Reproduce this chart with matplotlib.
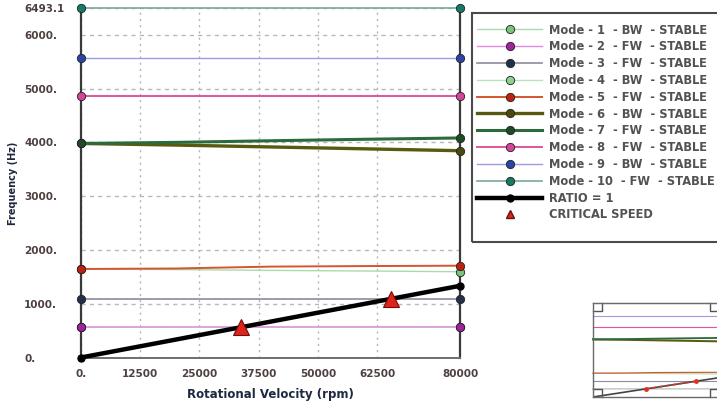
import matplotlib
matplotlib.use("Agg")
import matplotlib.pyplot as plt
from matplotlib.lines import Line2D
from matplotlib.patches import Rectangle

# ---------------- data ----------------
speed_rpm = [0, 20000, 40000, 60000, 80000]
mode_labels = [
    "Mode - 1  - BW  - STABLE",
    "Mode - 2  - FW  - STABLE",
    "Mode - 3  - FW  - STABLE",
    "Mode - 4  - BW  - STABLE",
    "Mode - 5  - FW  - STABLE",
    "Mode - 6  - BW  - STABLE",
    "Mode - 7  - FW  - STABLE",
    "Mode - 8  - FW  - STABLE",
    "Mode - 9  - BW  - STABLE",
    "Mode - 10  - FW  - STABLE",
]
mode1 = [1646, 1635, 1620, 1608, 1595]
mode2 = [566, 567, 568, 569, 570]
mode3 = [1093, 1093, 1093, 1093, 1093]
mode4 = [566, 565, 564, 563, 562]
mode5 = [1646, 1655, 1690, 1700, 1707]
mode6 = [3980, 3950, 3915, 3880, 3845]
mode7 = [3980, 4000, 4030, 4058, 4082]
mode8 = [4862, 4862, 4862, 4862, 4862]
mode9 = [5563, 5563, 5563, 5563, 5563]
mode10 = [6493.1, 6493.1, 6493.1, 6493.1, 6493.1]
modes = [mode1, mode2, mode3, mode4, mode5, mode6, mode7, mode8, mode9, mode10]

ratio_rpm = [0, 80000]
ratio_hz = [0, 1333.3]

critical_rpm = [33800, 65500]
critical_hz = [563, 1092]

x_ticks = [0, 12500, 25000, 37500, 50000, 62500, 80000]
x_ticklabels = ["0.", "12500", "25000", "37500", "50000", "62500", "80000"]
y_ticks = [0, 1000, 2000, 3000, 4000, 5000, 6000, 6493.1]
y_ticklabels = ["0.", "1000.", "2000.", "3000.", "4000.", "5000.", "6000.", "6493.1"]

# ---------------- styles ----------------
line_colors = ["#a9dcaa", "#e28ae0", "#8c8c9c", "#b9e3b9", "#d4552f",
               "#585a12", "#2c6a3a", "#e0559e", "#9c9ce4", "#78a898"]
marker_faces = ["#7cc47e", "#a0229c", "#22304a", "#8fd08f", "#c0200f",
                "#4a4a10", "#1f4a26", "#d4449a", "#2a44a8", "#167a66"]
line_widths = [1.0, 1.0, 1.2, 1.0, 1.4, 2.4, 2.2, 1.4, 1.0, 1.2]
z_orders = [3.0, 3.2, 3.0, 3.1, 3.3, 3.0, 3.1, 3.0, 3.0, 3.0]

W, H = 717, 404
fig = plt.figure(figsize=(W / 100, H / 100), dpi=100)
fig.patch.set_facecolor("white")

ax_l, ax_r, ax_t, ax_b = 81, 460, 8.3, 357.5
ax = fig.add_axes([ax_l / W, 1 - ax_b / H, (ax_r - ax_l) / W, (ax_b - ax_t) / H])

for vals, c, mf, lw, z in zip(modes, line_colors, marker_faces, line_widths, z_orders):
    ax.plot(speed_rpm, vals, color=c, lw=lw, zorder=z, clip_on=False,
            marker="o", markevery=[0, len(vals) - 1], markersize=6,
            markerfacecolor=mf, markeredgecolor="#222222", markeredgewidth=0.6)

ax.plot(ratio_rpm, ratio_hz, color="black", lw=3.2, zorder=5, clip_on=False,
        marker="o", markersize=5, markerfacecolor="black", markeredgecolor="black")
ax.plot(critical_rpm, critical_hz, ls="none", marker="^", markersize=11,
        markerfacecolor="#e0241a", markeredgecolor="#6a1010", markeredgewidth=0.8,
        zorder=6, clip_on=False)

ax.set_xlim(0, 80000)
ax.set_ylim(0, 6493.1)
ax.set_xticks(x_ticks)
ax.set_xticklabels(x_ticklabels)
ax.set_yticks(y_ticks)
ax.set_yticklabels(y_ticklabels)
tick_color = "#4e4040"
ax.tick_params(axis="x", length=0, pad=8, labelsize=7.5, labelcolor=tick_color)
ax.tick_params(axis="y", length=0, pad=41, labelsize=7.5, labelcolor=tick_color)
for lab in ax.get_yticklabels():
    lab.set_horizontalalignment("left")
    lab.set_fontweight("bold")
for lab in ax.get_xticklabels():
    lab.set_fontweight("bold")

ax.xaxis.grid(True, ls=(0, (1.5, 3)), color="#b4b4b4", lw=1.0)
ax.yaxis.grid(True, ls=(0, (3, 3)), color="#b8b8b8", lw=1.0)
ax.set_axisbelow(True)

ax.spines["top"].set_visible(False)
ax.spines["left"].set_color("#3a3a3a")
ax.spines["left"].set_linewidth(1.6)
ax.spines["right"].set_color("#3a3a3a")
ax.spines["right"].set_linewidth(1.6)
ax.spines["bottom"].set_color("#6e6e6e")
ax.spines["bottom"].set_linewidth(1.4)

ax.set_xlabel("Rotational Velocity (rpm)", fontsize=8.5, fontweight="bold",
              color="#1e2840", labelpad=7)
fig.text(13 / W, 1 - 183 / H, "Frequency (Hz)", rotation=90, fontsize=7,
         fontweight="bold", color="#1e2840", ha="center", va="center")

# ---------------- legend ----------------
handles = []
for c, mf, lw in zip(line_colors, marker_faces, line_widths):
    handles.append(Line2D([0], [0], color=c, lw=lw, marker="o", markersize=6,
                          markerfacecolor=mf, markeredgecolor="#222222",
                          markeredgewidth=0.6))
handles.append(Line2D([0], [0], color="black", lw=3.2, marker="o", markersize=5,
                      markerfacecolor="black"))
handles.append(Line2D([0], [0], ls="none", marker="^", markersize=6,
                      markerfacecolor="#e0241a", markeredgecolor="#6a1010"))
labels = mode_labels + ["RATIO = 1", "CRITICAL SPEED"]
leg = fig.legend(handles, labels, loc="upper left",
                 bbox_to_anchor=(477 / W, 1 - 23.5 / H), borderaxespad=0,
                 frameon=False, handlelength=5.65,
                 handletextpad=0.6, labelspacing=0.33, borderpad=0,
                 prop={"size": 8.3, "weight": "bold"})
for t in leg.get_texts():
    t.set_color("#525252")
fig.patches.append(Rectangle((472 / W, 1 - 242 / H), 300 / W, (242 - 13) / H,
                             transform=fig.transFigure, fill=False,
                             edgecolor="#4a4a4a", lw=1.5))

# ---------------- overview inset ----------------
ins_l, ins_r, ins_t, ins_b = 593, 719, 303, 397
ins = fig.add_axes([ins_l / W, 1 - ins_b / H, (ins_r - ins_l) / W, (ins_b - ins_t) / H])
for vals, c, lw in zip(modes, line_colors, line_widths):
    ins.plot(speed_rpm, vals, color=c, lw=max(lw * 0.6, 0.8), clip_on=False)
ins.plot(ratio_rpm, ratio_hz, color="#444444", lw=1.2)
ins.plot(critical_rpm, critical_hz, color="#e03020", ls=(0, (2, 2)), lw=1.2,
         marker="o", markersize=2.5)
ins.set_xlim(0, 80000)
ins.set_ylim(0, 6493.1)
ins.set_xticks([])
ins.set_yticks([])
for s in ins.spines.values():
    s.set_color("#6a6a6a")
    s.set_linewidth(1.0)
# corner brackets of the overview window
for (x0, y0, dx, dy) in [(0.0, 1.0, 0.07, -0.08), (1.0, 1.0, -0.07, -0.08),
                         (0.0, 0.0, 0.07, 0.08), (1.0, 0.0, -0.07, 0.08)]:
    ins.plot([x0 + dx, x0 + dx, x0], [y0, y0 + dy, y0 + dy], color="#555555",
             lw=1.0, transform=ins.transAxes, clip_on=False)

plt.savefig("out.png", dpi=100)
